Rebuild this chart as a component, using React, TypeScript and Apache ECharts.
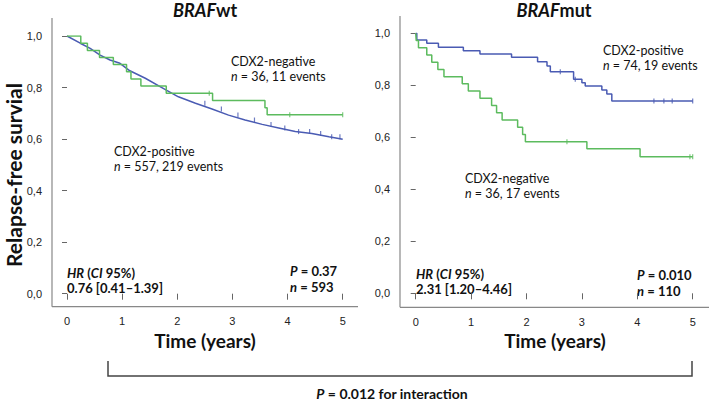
import React, { useEffect, useRef } from "react";
import * as echarts from "echarts";

// ---------- data ----------
const xTicks = [0, 1, 2, 3, 4, 5];
const yTicks = [0, 0.2, 0.4, 0.6, 0.8, 1.0];

// BRAF wild-type
const wtPosTimes = [0, 0.24, 0.42, 0.6, 0.78, 0.96, 1.14, 1.42, 1.72, 2.02, 2.33, 2.63, 2.93, 3.23, 3.54, 3.84, 4.14, 4.44, 4.75, 5.0];
const wtPosSurv = [1.0, 0.972, 0.952, 0.926, 0.907, 0.894, 0.865, 0.836, 0.8, 0.764, 0.739, 0.717, 0.693, 0.674, 0.657, 0.643, 0.629, 0.622, 0.609, 0.599];
const wtPosCensor = [2.5, 2.8, 3.1, 3.4, 3.7, 3.95, 4.2, 4.4, 4.6, 4.8, 4.95];

const wtNegTimes = [0, 0.25, 0.37, 0.59, 0.84, 1.08, 1.16, 1.34, 1.8, 2.64, 3.59, 3.63, 5.0];
const wtNegSurv = [1.0, 0.972, 0.944, 0.917, 0.889, 0.861, 0.833, 0.806, 0.778, 0.75, 0.722, 0.694, 0.694];
const wtNegCensor = [2.58, 4.04, 5.0];

// BRAF mutant
const mutPosTimes = [0, 0.02, 0.2, 0.41, 0.86, 1.16, 1.73, 2.2, 2.37, 2.43, 2.85, 3.0, 3.06, 3.36, 3.45, 3.54, 5.0];
const mutPosSurv = [1.0, 0.974, 0.962, 0.946, 0.933, 0.92, 0.908, 0.891, 0.874, 0.852, 0.823, 0.81, 0.797, 0.782, 0.767, 0.74, 0.74];
const mutPosCensor = [2.61, 2.88, 4.3, 4.48, 4.63, 5.0];

const mutNegTimes = [0, 0.01, 0.05, 0.2, 0.29, 0.4, 0.51, 0.84, 0.95, 1.16, 1.37, 1.46, 1.56, 1.84, 1.93, 1.98, 3.09, 4.05, 5.0];
const mutNegSurv = [1.0, 0.972, 0.944, 0.917, 0.889, 0.861, 0.833, 0.806, 0.778, 0.75, 0.722, 0.694, 0.667, 0.639, 0.611, 0.583, 0.556, 0.525, 0.525];
const mutNegCensor = [2.73, 4.95, 5.0];

const BLUE = "#4a5bb3";
const GREEN = "#5cbb5e";
const FONT = "Lato";
const INK = "#111";

function pairs(t: number[], s: number[]) {
  return t.map((v, i) => [v, s[i]]);
}
function censorPts(times: number[], t: number[], s: number[]) {
  return times.map((c) => {
    let val = s[0];
    for (let i = 0; i < t.length; i++) if (t[i] <= c) val = s[i];
    return [c, val];
  });
}

export default function App() {
  const ref = useRef<HTMLDivElement>(null);
  useEffect(() => {
    if (!ref.current) return;
    const chart = echarts.init(ref.current, undefined, { renderer: "svg" });

    const xAxisBase = (gi: number, offset: number) => ({
      type: "value",
      gridIndex: gi,
      min: 0,
      max: 5,
      interval: 1,
      offset,
      axisLine: { show: false },
      axisTick: { show: true, length: 6, lineStyle: { color: "#666", width: 1 } },
      axisLabel: { fontSize: 11, color: "#222", fontFamily: "Liberation Sans", margin: 9 },
      splitLine: { show: false },
    });
    const yAxisBase = (gi: number, offset: number) => ({
      type: "value",
      gridIndex: gi,
      min: 0,
      max: 1,
      interval: 0.2,
      offset,
      axisLine: { show: false },
      axisTick: { show: true, length: 5, lineStyle: { color: "#666", width: 1 } },
      axisLabel: {
        fontSize: 11,
        color: "#222",
        fontFamily: "Liberation Sans",
        margin: 10,
        formatter: (v: number) => v.toFixed(1).replace(".", ","),
      },
      splitLine: { show: false },
    });

    const lineSeries = (gi: number, data: number[][], color: string, step: any) => ({
      type: "line",
      xAxisIndex: gi,
      yAxisIndex: gi,
      data,
      step,
      showSymbol: false,
      symbol: "none",
      lineStyle: { color, width: 1.5 },
      silent: true,
    });
    const censorSeries = (gi: number, data: number[][], color: string) => ({
      type: "scatter",
      xAxisIndex: gi,
      yAxisIndex: gi,
      data,
      symbol: "rect",
      symbolSize: [1.2, 5],
      itemStyle: { color },
      silent: true,
    });

    const txt = (x: number, y: number, text: string, extra: any = {}) => ({
      type: "text",
      x,
      y,
      silent: true,
      style: {
        text,
        fill: INK,
        fontSize: 12.5,
        lineHeight: 15,
        fontFamily: FONT,
        align: "left",
        verticalAlign: "middle",
        ...extra,
      },
    });
    const richBold = (size: number, lh?: number) => ({
      i: { fontStyle: "italic", fontWeight: "bold", fontSize: size, lineHeight: lh ?? size + 2, fontFamily: FONT, fill: INK },
      b: { fontWeight: "bold", fontSize: size, lineHeight: lh ?? size + 2, fontFamily: FONT, fill: INK },
      n: { fontStyle: "italic", fontSize: size, lineHeight: lh ?? size + 2, fontFamily: FONT, fill: INK },
      r: { fontSize: size, lineHeight: lh ?? size + 2, fontFamily: FONT, fill: INK },
    });
    const axisLineStyle = { stroke: "#888", lineWidth: 1.2 };

    const option: any = {
      animation: false,
      grid: [
        { left: 67, top: 36, width: 275.7, height: 257.7 },
        { left: 415.7, top: 33.3, width: 277, height: 260 },
      ],
      xAxis: [xAxisBase(0, 13), xAxisBase(1, 14)],
      yAxis: [yAxisBase(0, 15), yAxisBase(1, 15.7)],
      series: [
        lineSeries(0, pairs(wtPosTimes, wtPosSurv), BLUE, false),
        censorSeries(0, censorPts(wtPosCensor, wtPosTimes, wtPosSurv), BLUE),
        lineSeries(0, pairs(wtNegTimes, wtNegSurv), GREEN, "end"),
        censorSeries(0, censorPts(wtNegCensor, wtNegTimes, wtNegSurv), GREEN),
        lineSeries(1, pairs(mutPosTimes, mutPosSurv), BLUE, "end"),
        censorSeries(1, censorPts(mutPosCensor, mutPosTimes, mutPosSurv), BLUE),
        lineSeries(1, pairs(mutNegTimes, mutNegSurv), GREEN, "end"),
        censorSeries(1, censorPts(mutNegCensor, mutNegTimes, mutNegSurv), GREEN),
      ],
      graphic: [
        // axis lines
        { type: "line", silent: true, shape: { x1: 52, y1: 18, x2: 52, y2: 306.7 }, style: axisLineStyle },
        { type: "line", silent: true, shape: { x1: 52, y1: 306.7, x2: 358, y2: 306.7 }, style: axisLineStyle },
        { type: "line", silent: true, shape: { x1: 400, y1: 16, x2: 400, y2: 307.3 }, style: axisLineStyle },
        { type: "line", silent: true, shape: { x1: 400, y1: 307.3, x2: 709, y2: 307.3 }, style: axisLineStyle },
        // titles
        txt(205, 10, "{i|BRAF}{b|wt}", { align: "center", lineHeight: 18, rich: richBold(18, 18) }),
        txt(554, 10, "{i|BRAF}{b|mut}", { align: "center", lineHeight: 18, rich: richBold(18, 18) }),
        // y label
        {
          type: "text",
          x: 13,
          y: 175,
          rotation: Math.PI / 2,
          silent: true,
          style: {
            text: "Relapse-free survial",
            fill: INK,
            fontSize: 21,
            lineHeight: 23,
            fontWeight: "bold",
            fontFamily: FONT,
            align: "center",
            verticalAlign: "middle",
          },
        },
        // x labels
        txt(205, 340, "Time (years)", { align: "center", fontSize: 19, lineHeight: 21, fontWeight: "bold" }),
        txt(555, 340, "Time (years)", { align: "center", fontSize: 19, lineHeight: 21, fontWeight: "bold" }),
        // left annotations
        txt(231, 61, "CDX2-negative"),
        txt(231, 76, "{n|n}{r| = 36, 11 events}", { rich: richBold(12.5) }),
        txt(114, 151, "CDX2-positive"),
        txt(114, 166, "{n|n}{r| = 557, 219 events}", { rich: richBold(12.5) }),
        txt(67, 273, "{i|HR}{b| (}{i|CI}{b| 95%)}", { rich: richBold(13) }),
        txt(67, 288, "0.76 [0.41–1.39]", { fontSize: 13, fontWeight: "bold" }),
        txt(290, 271, "{i|P}{b| = 0.37}", { rich: richBold(13) }),
        txt(290, 287, "{i|n}{b| = 593}", { rich: richBold(13) }),
        // right annotations
        txt(603, 50, "CDX2-positive"),
        txt(603, 65, "{n|n}{r| = 74, 19 events}", { rich: richBold(12.5) }),
        txt(465, 178, "CDX2-negative"),
        txt(465, 193, "{n|n}{r| = 36, 17 events}", { rich: richBold(12.5) }),
        txt(416, 274, "{i|HR}{b| (}{i|CI}{b| 95%)}", { rich: richBold(13) }),
        txt(416, 289, "2.31 [1.20–4.46]", { fontSize: 13, fontWeight: "bold" }),
        txt(637, 275, "{i|P}{b| = 0.010}", { rich: richBold(13) }),
        txt(637, 291, "{i|n}{b| = 110}", { rich: richBold(13) }),
        // bracket
        {
          type: "polyline",
          silent: true,
          shape: { points: [[108, 361], [108, 376], [692, 376], [692, 361]] },
          style: { stroke: "#444", lineWidth: 1.5, fill: "none" },
        },
        txt(392, 393, "{i|P}{b| = 0.012 for interaction}", { align: "center", lineHeight: 15, rich: richBold(14) }),
      ],
    };
    chart.setOption(option);
    return () => chart.dispose();
  }, []);
  return (
    <div
      ref={ref}
      style={{ position: "absolute", left: 0, top: 0, width: 709, height: 401, background: "#fff" }}
    />
  );
}
